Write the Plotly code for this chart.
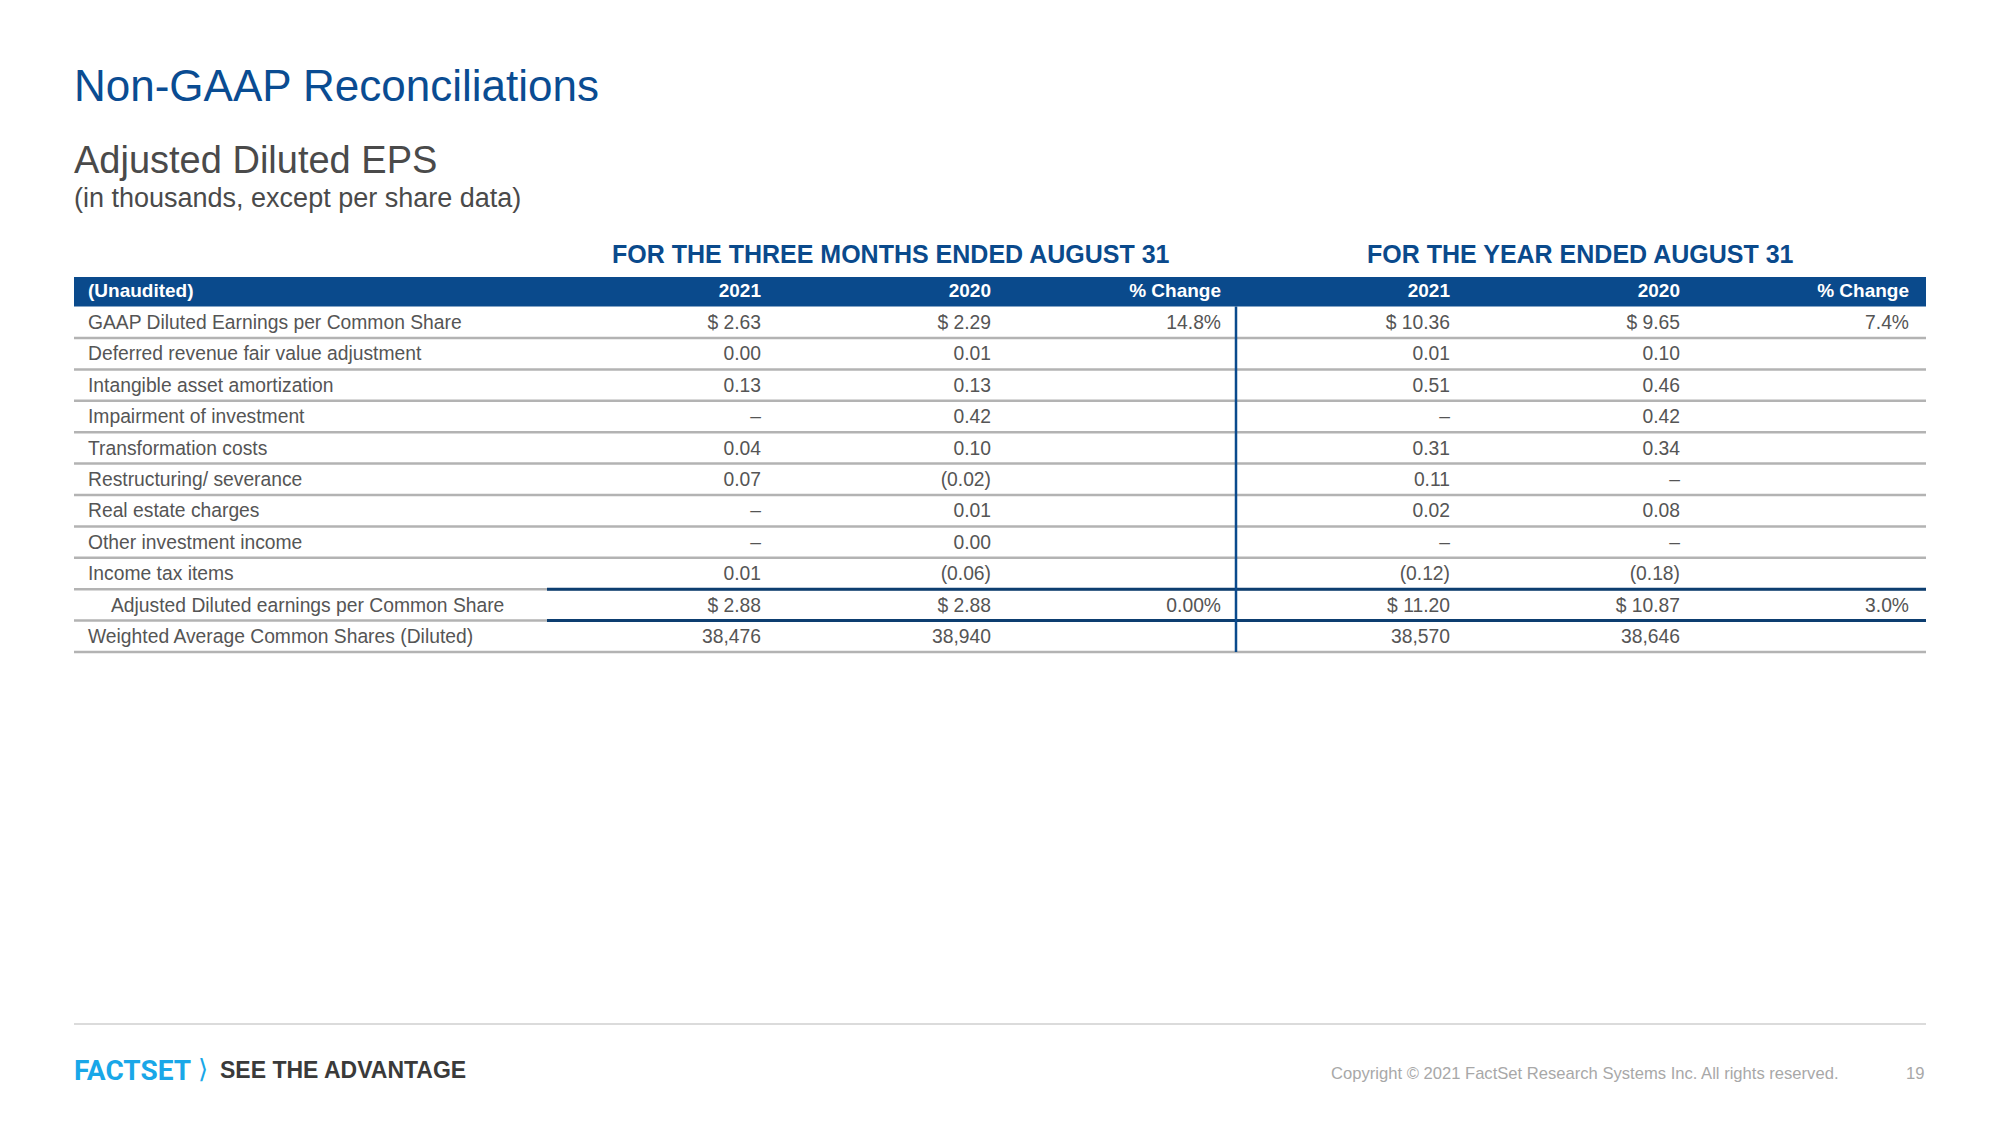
import plotly.graph_objects as go

# ---------------- data ----------------
row_labels = [
    "GAAP Diluted Earnings per Common Share",
    "Deferred revenue fair value adjustment",
    "Intangible asset amortization",
    "Impairment of investment",
    "Transformation costs",
    "Restructuring/ severance",
    "Real estate charges",
    "Other investment income",
    "Income tax items",
    "Adjusted Diluted earnings per Common Share",
    "Weighted Average Common Shares (Diluted)",
]
q3_2021 = [2.63, 0.00, 0.13, None, 0.04, 0.07, None, None, 0.01, 2.88, 38476]
q3_2020 = [2.29, 0.01, 0.13, 0.42, 0.10, -0.02, 0.01, 0.00, -0.06, 2.88, 38940]
q3_change = ["14.8%", "", "", "", "", "", "", "", "", "0.00%", ""]
fy_2021 = [10.36, 0.01, 0.51, None, 0.31, 0.11, 0.02, None, -0.12, 11.20, 38570]
fy_2020 = [9.65, 0.10, 0.46, 0.42, 0.34, None, 0.08, None, -0.18, 10.87, 38646]
fy_change = ["7.4%", "", "", "", "", "", "", "", "", "3.0%", ""]
column_headers = ["(Unaudited)", "2021", "2020", "% Change", "2021", "2020", "% Change"]
section_titles = ["FOR THE THREE MONTHS ENDED AUGUST 31", "FOR THE YEAR ENDED AUGUST 31"]
dollar_rows = [0, 9]
share_rows = [10]
total_row = 9

# ---------------- layout constants ----------------
W, H = 2000, 1125
TABLE_L, TABLE_R = 74, 1926
ROW0_Y, PITCH = 322.3, 31.4
TEXT_DY = 0.06
LABEL_X, INDENT_X = 88, 111
COL_RIGHT = [761, 991, 1221, 1450, 1680, 1909]
DIVIDER_X = 1236
TOTAL_LINE_X0 = 547
BLUE = "#0a4a8c"
NAVY = "#0d3e70"
TEXT = "#555555"
GRID = "#b3b3b3"
FONT = "Liberation Sans, Arial, sans-serif"
BODY_SIZE = 19.3


def fmt(v, i):
    if v is None:
        return "–"
    if i in share_rows:
        return f"{v:,.0f}"
    if i in dollar_rows:
        return f"$ {v:.2f}"
    if v < 0:
        return f"({abs(v):.2f})"
    return f"{v:.2f}"


n = len(row_labels)
rows = list(range(n))
text_rows = [r + TEXT_DY for r in rows]
fig = go.Figure()

# row labels
fig.add_trace(go.Scatter(
    x=[INDENT_X if i == total_row else LABEL_X for i in rows], y=text_rows,
    mode="text", text=row_labels, textposition="middle right",
    textfont=dict(family=FONT, size=BODY_SIZE, color=TEXT),
    hoverinfo="skip", showlegend=False, cliponaxis=False))

# value columns
columns = [
    [fmt(v, i) for i, v in enumerate(q3_2021)],
    [fmt(v, i) for i, v in enumerate(q3_2020)],
    q3_change,
    [fmt(v, i) for i, v in enumerate(fy_2021)],
    [fmt(v, i) for i, v in enumerate(fy_2020)],
    fy_change,
]
for xr, col in zip(COL_RIGHT, columns):
    fig.add_trace(go.Scatter(
        x=[xr] * n, y=text_rows, mode="text", text=col, textposition="middle left",
        textfont=dict(family=FONT, size=BODY_SIZE, color=TEXT),
        hoverinfo="skip", showlegend=False, cliponaxis=False))

# header row
HEADER_Y = -0.97
fig.add_trace(go.Scatter(
    x=[LABEL_X], y=[HEADER_Y], mode="text", text=[column_headers[0]],
    textposition="middle right",
    textfont=dict(family=FONT, size=19, color="white", weight="bold"),
    hoverinfo="skip", showlegend=False, cliponaxis=False))
fig.add_trace(go.Scatter(
    x=COL_RIGHT, y=[HEADER_Y] * len(COL_RIGHT), mode="text", text=column_headers[1:],
    textposition="middle left",
    textfont=dict(family=FONT, size=19, color="white", weight="bold"),
    hoverinfo="skip", showlegend=False, cliponaxis=False))

shapes = []
# header band
shapes.append(dict(type="rect", xref="x", yref="y", x0=TABLE_L, x1=TABLE_R,
                   y0=-1.443, y1=-0.5, fillcolor=BLUE, line=dict(width=0), layer="below"))
# gray row separators
for i in rows:
    shapes.append(dict(type="line", xref="x", yref="y", x0=TABLE_L, x1=TABLE_R,
                       y0=i + 0.5, y1=i + 0.5, line=dict(color=GRID, width=2.5), layer="below"))
# navy total lines
for yy in (total_row - 0.5, total_row + 0.5):
    shapes.append(dict(type="line", xref="x", yref="y", x0=TOTAL_LINE_X0, x1=TABLE_R,
                       y0=yy, y1=yy, line=dict(color=NAVY, width=3), layer="below"))
# vertical divider
shapes.append(dict(type="line", xref="x", yref="y", x0=DIVIDER_X, x1=DIVIDER_X,
                   y0=-0.5, y1=n - 0.5, line=dict(color=BLUE, width=2.5), layer="below"))
# footer rule
shapes.append(dict(type="line", xref="x", yref="paper", x0=TABLE_L, x1=TABLE_R,
                   y0=1 - 1024 / H, y1=1 - 1024 / H, line=dict(color="#cfcfcf", width=1.5)))


def ann(text, x, y, size, color, xanchor="left", weight="normal", family=FONT):
    return dict(text=text, x=x / W, y=1 - y / H, xref="paper", yref="paper",
                xanchor=xanchor, yanchor="middle", showarrow=False,
                font=dict(family=family, size=size, color=color, weight=weight))


annotations = [
    ann("Non-GAAP Reconciliations", 72, 85, 44, "#0a4c92"),
    ann("Adjusted Diluted EPS", 72, 160, 38, "#4a4a4a"),
    ann("(in thousands, except per share data)", 72, 198, 27, "#4a4a4a"),
    ann(section_titles[0], 891, 254, 25, BLUE, xanchor="center", weight="bold"),
    ann(section_titles[1], 1580, 254, 25, BLUE, xanchor="center", weight="bold"),
    ann("FACTSET", 72, 1070, 28, "#19a7e8", weight="bold", family="Roboto, Liberation Sans"),
    ann("⟩", 196, 1069, 26, "#19a7e8", family="DejaVu Sans"),
    ann("SEE THE ADVANTAGE", 218, 1070, 23, "#3a3a3a", weight="bold"),
    ann("Copyright © 2021 FactSet Research Systems Inc. All rights reserved.", 1841, 1073, 16.6,
        "#a8a8a8", xanchor="right"),
    ann("19", 1926, 1073, 16.6, "#a8a8a8", xanchor="right"),
]

fig.update_layout(
    width=W, height=H, autosize=False,
    margin=dict(l=0, r=0, t=0, b=0),
    paper_bgcolor="white", plot_bgcolor="white",
    xaxis=dict(range=[0, W], visible=False, fixedrange=True),
    yaxis=dict(range=[(H - ROW0_Y) / PITCH, -ROW0_Y / PITCH], visible=False, fixedrange=True),
    shapes=shapes, annotations=annotations,
)

fig.write_html("out.html", config={"displayModeBar": False},
               post_script="document.body.style.margin='0';")
